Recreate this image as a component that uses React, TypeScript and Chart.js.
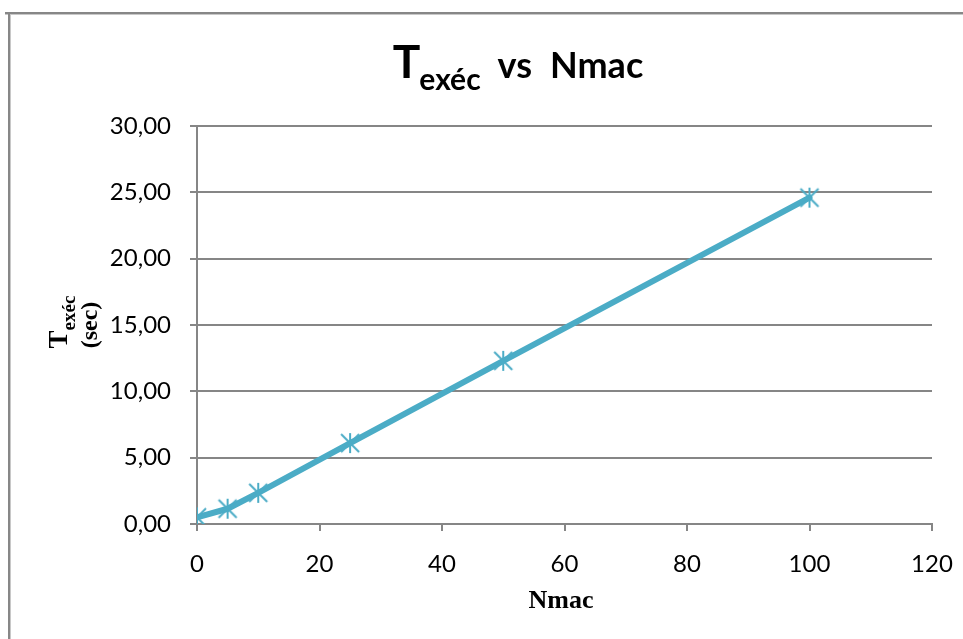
import React, { useEffect, useRef } from "react";
import { Chart, registerables } from "chart.js";

Chart.register(...registerables);

const nmac = [0, 5, 10, 25, 50, 100];
const texec = [0.5, 1.15, 2.35, 6.1, 12.3, 24.6];
const xTicks = [0, 20, 40, 60, 80, 100, 120];
const yTicks = [0, 5, 10, 15, 20, 25, 30];

const LINE = "#4BACC6";
const GRID = "#868686";
const SANS = "Lato, 'Open Sans', sans-serif";
const SERIF = "'Liberation Serif', 'DejaVu Serif', serif";

function makeMarker(): HTMLCanvasElement {
  const c = document.createElement("canvas");
  c.width = 22;
  c.height = 22;
  const g = c.getContext("2d")!;
  g.strokeStyle = LINE;
  g.lineWidth = 2;
  g.beginPath();
  g.moveTo(11, 1);
  g.lineTo(11, 21);
  g.moveTo(2, 2);
  g.lineTo(20, 20);
  g.moveTo(20, 2);
  g.lineTo(2, 20);
  g.stroke();
  return c;
}

const decor = {
  id: "decor",
  beforeDraw(chart: any) {
    const ctx = chart.ctx as CanvasRenderingContext2D;
    ctx.save();
    ctx.fillStyle = "#ffffff";
    ctx.fillRect(0, 0, chart.width, chart.height);
    // frame
    ctx.fillStyle = "#c8c8c8";
    ctx.fillRect(5, 14, chart.width - 5, 1);
    ctx.fillRect(10, 14, 1, chart.height - 14);
    ctx.fillStyle = "#878787";
    ctx.fillRect(5, 12, chart.width - 5, 2);
    ctx.fillRect(8, 12, 2, chart.height - 12);
    ctx.restore();
  },
  afterDraw(chart: any) {
    const ctx = chart.ctx as CanvasRenderingContext2D;
    const area = chart.chartArea;
    ctx.save();
    ctx.fillStyle = "#000000";
    ctx.textBaseline = "alphabetic";
    ctx.textAlign = "left";
    // main title
    const fT = `bold 46px ${SANS}`;
    const fSub = `bold 30px ${SANS}`;
    const fMain = `bold 36px ${SANS}`;
    ctx.font = fT;
    const wT = ctx.measureText("T").width;
    ctx.font = fSub;
    const wSub = ctx.measureText("exéc").width;
    ctx.font = fMain;
    const wVs = ctx.measureText("vs").width;
    const wN = ctx.measureText("Nmac").width;
    const g1 = -1, g2 = 17, g3 = 18;
    const total = wT + g1 + wSub + g2 + wVs + g3 + wN;
    let x = 518 - total / 2;
    const base = 78;
    ctx.font = fT;
    ctx.fillText("T", x, base);
    x += wT + g1;
    ctx.font = fSub;
    ctx.fillText("exéc", x, base + 12);
    x += wSub + g2;
    ctx.font = fMain;
    ctx.fillText("vs", x, base);
    x += wVs + g3;
    ctx.fillText("Nmac", x, base);

    // y axis title (rotated)
    const cy = (area.top + area.bottom) / 2;
    ctx.translate(0, cy);
    ctx.rotate(-Math.PI / 2);
    const fYT = `bold 27px ${SERIF}`;
    const fYSub = `bold 19px ${SERIF}`;
    const fY2 = `bold 24px ${SERIF}`;
    ctx.font = fYT;
    const wyT = ctx.measureText("T").width;
    ctx.font = fYSub;
    const wyS = ctx.measureText("exéc").width;
    const w1 = wyT + wyS;
    let xx = -w1 / 2 + 3;
    ctx.font = fYT;
    ctx.fillText("T", xx, 67);
    xx += wyT;
    ctx.font = fYSub;
    ctx.fillText("exéc", xx, 75);
    ctx.font = fY2;
    ctx.textAlign = "center";
    ctx.fillText("(sec)", 0, 97);
    ctx.restore();

    // x axis title
    ctx.save();
    ctx.fillStyle = "#000000";
    ctx.font = `bold 26px ${SERIF}`;
    ctx.textAlign = "center";
    ctx.textBaseline = "alphabetic";
    ctx.fillText("Nmac", 561, 608);
    ctx.restore();
  },
};

export default function App() {
  const ref = useRef<HTMLCanvasElement | null>(null);
  useEffect(() => {
    document.body.style.margin = "0";
    const canvas = ref.current!;
    const marker = makeMarker();
    const chart = new Chart(canvas, {
      type: "line",
      data: {
        datasets: [
          {
            data: nmac.map((n, i) => ({ x: n, y: texec[i] })),
            borderColor: LINE,
            backgroundColor: LINE,
            borderWidth: 6,
            borderCapStyle: "round",
            borderJoinStyle: "round",
            tension: 0,
            pointStyle: marker as any,
            pointRadius: 10,
            fill: false,
          },
        ],
      },
      options: {
        responsive: false,
        animation: false,
        layout: { padding: { left: 0, top: 126, right: 31, bottom: 0 } },
        plugins: {
          legend: { display: false },
          title: { display: false },
          tooltip: { enabled: false },
        },
        scales: {
          x: {
            type: "linear",
            min: 0,
            max: 120,
            afterBuildTicks: (s: any) => {
              s.ticks = xTicks.map((v) => ({ value: v }));
            },
            afterFit: (s: any) => {
              s.height = 115;
              s.paddingLeft = 0;
              s.paddingRight = 0;
            },
            ticks: {
              color: "#000000",
              font: { family: SANS, size: 24 },
              padding: 19,
              maxRotation: 0,
              callback: (v: any) => String(v),
            },
            grid: {
              display: true,
              drawOnChartArea: false,
              drawTicks: true,
              tickLength: 7,
              color: GRID,
              lineWidth: 2,
            },
            border: { display: true, color: GRID, width: 2 },
          },
          y: {
            type: "linear",
            min: 0,
            max: 30,
            afterBuildTicks: (s: any) => {
              s.ticks = yTicks.map((v) => ({ value: v }));
            },
            afterFit: (s: any) => {
              s.width = 197;
              s.paddingTop = 0;
              s.paddingBottom = 0;
            },
            ticks: {
              color: "#000000",
              font: { family: SANS, size: 24 },
              padding: 19,
              callback: (v: any) => Number(v).toFixed(2).replace(".", ","),
            },
            grid: {
              display: true,
              drawOnChartArea: true,
              drawTicks: true,
              tickLength: 7,
              color: GRID,
              lineWidth: 2,
            },
            border: { display: true, color: GRID, width: 2 },
          },
        },
      },
      plugins: [decor],
    });
    return () => chart.destroy();
  }, []);
  return (
    <div style={{ width: 963, height: 639 }}>
      <canvas ref={ref} width={963} height={639} style={{ display: "block" }} />
    </div>
  );
}
